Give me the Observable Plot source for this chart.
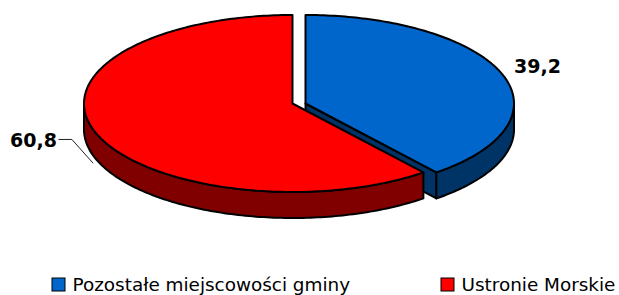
<!DOCTYPE html>
<html><head><meta charset="utf-8">
<script src="https://cdn.jsdelivr.net/npm/d3@7"></script>
<script src="https://cdn.jsdelivr.net/npm/@observablehq/plot@0.6"></script>
<style>html,body{margin:0;padding:0;background:#fff;}</style>
</head><body><div id="chart"></div>
<script>
const categories = ["Pozostałe miejscowości gminy", "Ustronie Morskie"];
const values = [39.2, 60.8];
const valueLabels = ["39,2", "60,8"];
const topColors = ["#0066CC", "#FF0000"];
const sideColors = ["#003366", "#800000"];

const W = 619, H = 295;
const rx = 208.5, ry = 88.5, depth = 26;
const apexes = [[305, 103], [292, 103]];
const total = d3.sum(values);
const deg = Math.PI / 180;

function pt(i, t, dz) {
  const [ax, ay] = apexes[i];
  return [ax + rx * Math.sin(t), ay - ry * Math.cos(t) + dz];
}
function arc(i, from, to, dz) {
  const n = Math.max(2, Math.ceil((to - from) / deg));
  const out = [];
  for (let k = 0; k <= n; k++) out.push(pt(i, from + (to - from) * k / n, dz));
  return out;
}

const polys = [];
const labelRows = [];
const leaderRows = [];
let acc = 0;
values.forEach((v, i) => {
  const a0 = acc / total * 2 * Math.PI;
  acc += v;
  const a1 = acc / total * 2 * Math.PI;
  const [ax, ay] = apexes[i];
  if (Math.sin(a1) > 0.01) {
    const p = pt(i, a1, 0);
    polys.push({ fill: sideColors[i], pts: [[ax, ay], p, [p[0], p[1] + depth], [ax, ay + depth]] });
  }
  if (-Math.sin(a0) > 0.01) {
    const p = pt(i, a0, 0);
    polys.push({ fill: sideColors[i], pts: [[ax, ay], p, [p[0], p[1] + depth], [ax, ay + depth]] });
  }
  const s0 = Math.max(a0, 90 * deg), s1 = Math.min(a1, 270 * deg);
  if (s1 > s0) {
    polys.push({ fill: sideColors[i], pts: [...arc(i, s0, s1, 0), ...arc(i, s0, s1, depth).reverse()] });
  }
  polys.push({ fill: topColors[i], pts: [[ax, ay], ...arc(i, a0, a1, 0)] });

  const m = (a0 + a1) / 2;
  const P = pt(i, m, 0);
  if (Math.sin(m) >= 0) {
    labelRows.push({ x: P[0] + 12, y: P[1] - 7, text: valueLabels[i], anchor: "start" });
  } else {
    const start = [P[0] - 3, P[1] + depth + 4];
    const elbow = [P[0] - 24, P[1] + 6.5];
    const end = [elbow[0] - 13, elbow[1]];
    [start, elbow, end].forEach(q => leaderRows.push({ x: q[0], y: q[1], id: i }));
    labelRows.push({ x: end[0] - 2, y: end[1] + 1, text: valueLabels[i], anchor: "end" });
  }
});

const polyRows = [];
polys.forEach((p, k) => p.pts.forEach(([x, y]) => polyRows.push({ id: k, x, y, fill: p.fill })));

const legendX = [52, 441];
const legendRows = categories.map((c, i) => ({ name: c, color: topColors[i], x: legendX[i] }));
const legendY = 278, box = 13;

const labelStyle = { x: "x", y: "y", text: "text", fontFamily: "DejaVu Sans", fontWeight: "bold", fontSize: 19, fill: "black", lineAnchor: "middle" };

const chart = Plot.plot({
  width: W, height: H,
  margin: 0,
  x: { type: "linear", domain: [0, W], range: [0, W], axis: null },
  y: { type: "linear", domain: [0, H], range: [0, H], axis: null },
  color: { type: "identity" },
  style: { background: "white", overflow: "visible" },
  marks: [
    Plot.line(polyRows, { x: "x", y: "y", z: "id", fill: "fill", stroke: "black", strokeWidth: 2, strokeLinejoin: "round", curve: "linear-closed" }),
    Plot.line(leaderRows, { x: "x", y: "y", z: "id", stroke: "#222", strokeWidth: 1 }),
    Plot.text(labelRows.filter(d => d.anchor === "start"), { ...labelStyle, textAnchor: "start" }),
    Plot.text(labelRows.filter(d => d.anchor === "end"), { ...labelStyle, textAnchor: "end" }),
    Plot.rect(legendRows, { x1: "x", x2: d => d.x + box, y1: legendY, y2: legendY + box, fill: "color", stroke: "black", strokeWidth: 1 }),
    Plot.text(legendRows, { x: d => d.x + box + 7, y: legendY + box - 1, text: "name", textAnchor: "start", lineAnchor: "bottom", fontFamily: "DejaVu Sans", fontSize: 18.4, fill: "black" })
  ]
});
document.getElementById("chart").appendChild(chart);
</script>
</body></html>
